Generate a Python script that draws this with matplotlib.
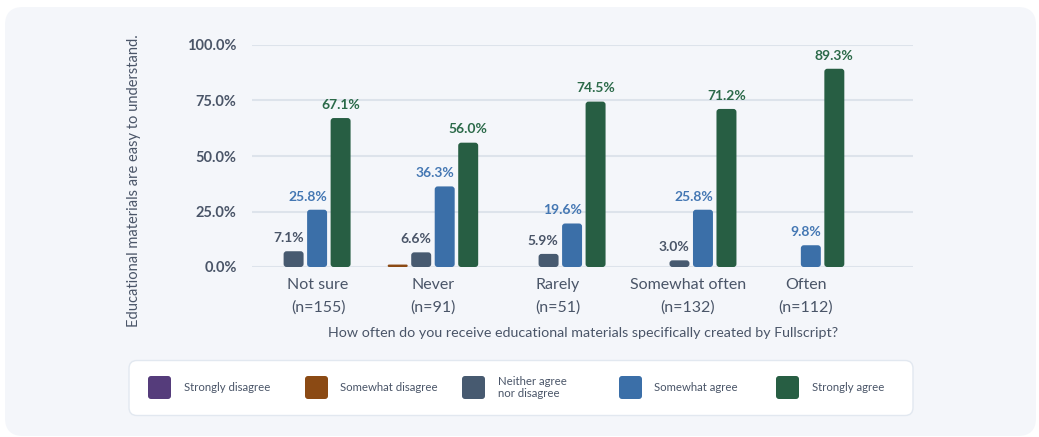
import numpy as np
import matplotlib
matplotlib.use('Agg')
import matplotlib.pyplot as plt
from matplotlib.patches import FancyBboxPatch
from matplotlib.transforms import IdentityTransform

plt.rcParams['font.family'] = ['Lato', 'DejaVu Sans']

# Survey responses (% of respondents) per frequency group
categories = ["Not sure\n(n=155)", "Never\n(n=91)", "Rarely\n(n=51)",
              "Somewhat often\n(n=132)", "Often\n(n=112)"]
series_names = ["Strongly disagree", "Somewhat disagree",
                "Neither agree\nnor disagree", "Somewhat agree", "Strongly agree"]
strongly_disagree = [0.0, 0.0, 0.0, 0.0, 0.0]
somewhat_disagree = [0.0, 1.1, 0.0, 0.0, 0.0]
neither = [7.1, 6.6, 5.9, 3.0, 0.0]
somewhat_agree = [25.8, 36.3, 19.6, 25.8, 9.8]
strongly_agree = [67.1, 56.0, 74.5, 71.2, 89.3]
y_ticks = [0, 25, 50, 75, 100]

values = [strongly_disagree, somewhat_disagree, neither, somewhat_agree, strongly_agree]
colors = ["#553c7b", "#8b4a14", "#475a70", "#3b6fa8", "#275e43"]
label_colors = ["#553c7b", "#8b4a14", "#4a5568", "#4477b3", "#2b6a49"]
label_align = ["right", "right", "right", "right", "center"]
text_color = "#4a5568"

# cluster centres and tick-label centres, in bar-slot units
cluster_pos = [2.77, 7.70, 13.62, 19.19, 24.28]
label_pos = [2.81, 7.72, 13.02, 18.55, 23.57]
bar_w = 0.85

W, H = 1039, 437
fig = plt.figure(figsize=(W / 100, H / 100), dpi=100)
fig.patch.set_facecolor('white')

# light rounded background panel
fig.patches.append(FancyBboxPatch((5, 1), 1031, 429,
                                  boxstyle="round,pad=0,rounding_size=18",
                                  facecolor="#f4f6fa", edgecolor="none",
                                  transform=IdentityTransform(), figure=fig, zorder=-10))

ax = fig.add_axes([252 / W, 1 - 267 / H, (913 - 252) / W, (267 - 45) / H])
ax.set_zorder(5)
ax.set_facecolor('none')
ax.set_xlim(0, 661 / 23.5)
ax.set_ylim(0, 100)

# pixel scale used to keep corner radii round
px_x = 661 / 23.5 / 661
px_y = 100 / 222
r = 3 * px_x
aspect = px_y / px_x

for g in range(len(categories)):
    nonzero = [s for s in range(len(values)) if values[s][g] > 0]
    n = len(nonzero)
    for k, s in enumerate(nonzero):
        v = values[s][g]
        xc = cluster_pos[g] + (k - (n - 1) / 2)
        h_x = v / aspect
        rr = min(r, h_x / 2, bar_w / 2)
        ax.add_patch(FancyBboxPatch((xc - bar_w / 2, 0), bar_w, v,
                                    boxstyle=f"round,pad=0,rounding_size={rr}",
                                    mutation_aspect=aspect,
                                    facecolor=colors[s], edgecolor='none', zorder=3))
        if v >= 2:
            lx = xc + bar_w / 2 if label_align[s] == "right" else xc
            ax.annotate(f"{v:.1f}%", (lx, v), xytext=(0, 9.5), textcoords='offset points',
                        ha=label_align[s], va='center', fontsize=10, fontweight='bold',
                        color=label_colors[s], zorder=4, annotation_clip=False)

ax.set_yticks(y_ticks)
ax.set_yticklabels([f"{t:.1f}%" for t in y_ticks], fontsize=10.5, fontweight='bold',
                   color=text_color)
ax.set_xticks(label_pos)
ax.set_xticklabels(categories, fontsize=11.5, color=text_color, linespacing=1.75)
ax.tick_params(axis='y', length=0, pad=11)
ax.tick_params(axis='x', length=0, pad=8)
ax.grid(axis='y', color="#dde3eb", linewidth=1.5, zorder=0)
ax.set_axisbelow(True)
for sp in ax.spines.values():
    sp.set_visible(False)

fig.text(583 / W, 1 - 333 / H,
         "How often do you receive educational materials specifically created by Fullscript?",
         ha='center', va='center', fontsize=10.3, color=text_color)
fig.text(134 / W, 1 - 181 / H, "Educational materials are easy to understand.",
         ha='center', va='center', rotation=90, fontsize=10.5, color=text_color)

# legend box
fig.patches.append(FancyBboxPatch((129, H - 415.5), 784, 55,
                                  boxstyle="round,pad=0,rounding_size=8",
                                  facecolor="white", edgecolor="#e2e8f0", linewidth=1,
                                  transform=IdentityTransform(), figure=fig, zorder=1))
for i, name in enumerate(series_names):
    x0 = 148 + 157 * i
    fig.patches.append(FancyBboxPatch((x0, H - 399), 23, 23,
                                      boxstyle="round,pad=0,rounding_size=3",
                                      facecolor=colors[i], edgecolor='none',
                                      transform=IdentityTransform(), figure=fig, zorder=2))
    fig.text((x0 + 35.5) / W, 1 - 387.5 / H, name, ha='left', va='center',
             fontsize=8.2, color=text_color, linespacing=1.1, zorder=3)

fig.savefig('out.png', dpi=100)
